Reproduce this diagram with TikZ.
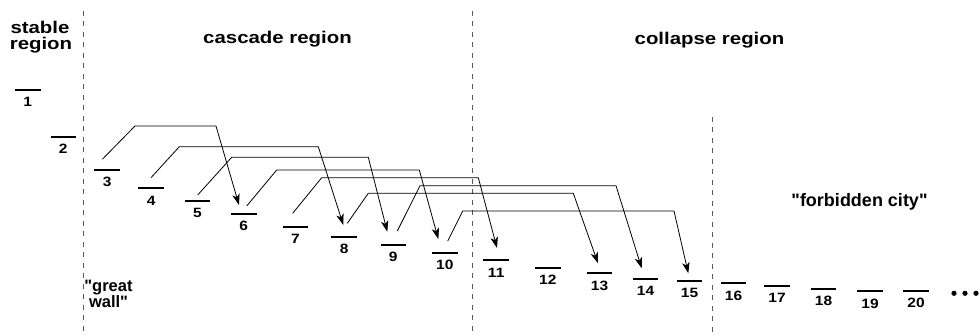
\documentclass[tikz,border=0pt]{standalone}
\usepackage{fontspec}
\setmainfont{Liberation Sans}[Ligatures=TeXOff]
\newfontfamily\headfont{Liberation Sans}[FakeStretch=1.2, Ligatures=TeXOff]
\newfontfamily\numfont{Liberation Sans}[FakeStretch=1.15, Ligatures=TeXOff]
\usetikzlibrary{arrows.meta}
\tikzset{
  level/.style={fill=black, minimum width=25.6pt, minimum height=2pt, inner sep=0pt, outer sep=0pt},
  num/.style={anchor=base, inner sep=0pt, font=\numfont\bfseries\fontsize{13.5}{16}\selectfont},
  head/.style={anchor=base, inner sep=0pt, font=\headfont\bfseries\fontsize{17}{20}\selectfont},
  quoted/.style={anchor=base, inner sep=0pt, font=\bfseries\fontsize{16.5}{20}\selectfont},
  divider/.style={draw=black!65, line width=1pt, dash pattern=on 5pt off 5.5pt},
  jump/.style={draw=black, line width=0.8pt, line join=miter, -{Stealth[length=11pt,width=7.5pt,inset=3pt]}},
}
\begin{document}
\begin{tikzpicture}[x=1pt,y=-1pt]
\useasboundingbox (0,0) rectangle (980,336);

% region dividers
\draw[divider] (83.3,11) -- (83.3,336);
\draw[divider] (472.7,11) -- (472.7,336);
\draw[divider] (712.3,117) -- (712.3,336);

% region titles
\node[head] (st1) at (40,33.3) {stable};
\node[head] (st2) at (41,49.3) {region};
\node[head] (casc) at (277.5,44) {cascade region};
\node[head] (coll) at (709.5,44.5) {collapse region};
\node[quoted, font=\bfseries\fontsize{18}{21}\selectfont] (city) at (859.5,206.7) {"forbidden city"};
\node[quoted] (gw1) at (108.5,291.2) {"great};
\node[quoted] (gw2) at (108.5,307.2) {wall"};

% energy levels with their numbers
\foreach \i/\x/\y in {1/27.8/90, 2/63.3/136.7, 3/107.2/170, 4/151.2/188.3,
    5/197.5/200.8, 6/243.8/214, 7/295.5/226.7, 8/344.2/236.7, 9/393.3/245,
    10/444.8/252.7, 11/496.2/260.3, 12/547.8/267.7, 13/599.5/273.3,
    14/645.5/278.7, 15/689.5/281, 16/733.5/283.3, 17/777/285.7,
    18/823.5/288.7, 19/870/291.3, 20/916/291}{
  \node[level] (b\i) at (\x,\y) {};
  \node[num] (n\i) at (\x,\y+17) {\i};
}

% trailing dots
\fill (954,293.3) circle (2.6) (965,293.3) circle (2.6) (976,293.3) circle (2.6);

% start and end points of the transitions
\coordinate (s3) at (102.3,159.3);  \coordinate (t6) at (239,205);
\coordinate (s4) at (151,177.7);    \coordinate (t8) at (343.3,225);
\coordinate (s5) at (197.7,195);    \coordinate (t9) at (387.3,231.7);
\coordinate (s6) at (246.7,206);    \coordinate (t10) at (438.3,239);
\coordinate (s7) at (292.7,213.3);  \coordinate (t11) at (497,248);
\coordinate (s8) at (347.3,223.3);  \coordinate (t13) at (598,263.3);
\coordinate (s9) at (397.3,231);    \coordinate (t14) at (641.7,268.3);
\coordinate (s10) at (447.7,241);   \coordinate (t15) at (688.3,273.3);

% transitions
\draw[jump] (s3) -- (135,126) -- (216,126) -- (t6);
\draw[jump] (s4) -- (179.3,146.7) -- (318.3,146.7) -- (t8);
\draw[jump] (s5) -- (231.7,157.3) -- (368.3,157.3) -- (t9);
\draw[jump] (s6) -- (276.7,170) -- (419.3,170) -- (t10);
\draw[jump] (s7) -- (321.7,177.7) -- (478.3,177.7) -- (t11);
\draw[jump] (s8) -- (368.3,193.3) -- (573.3,193.3) -- (t13);
\draw[jump] (s9) -- (420,185.7) -- (616,185.7) -- (t14);
\draw[jump] (s10) -- (462.7,211) -- (674,211) -- (t15);
\end{tikzpicture}
\end{document}
